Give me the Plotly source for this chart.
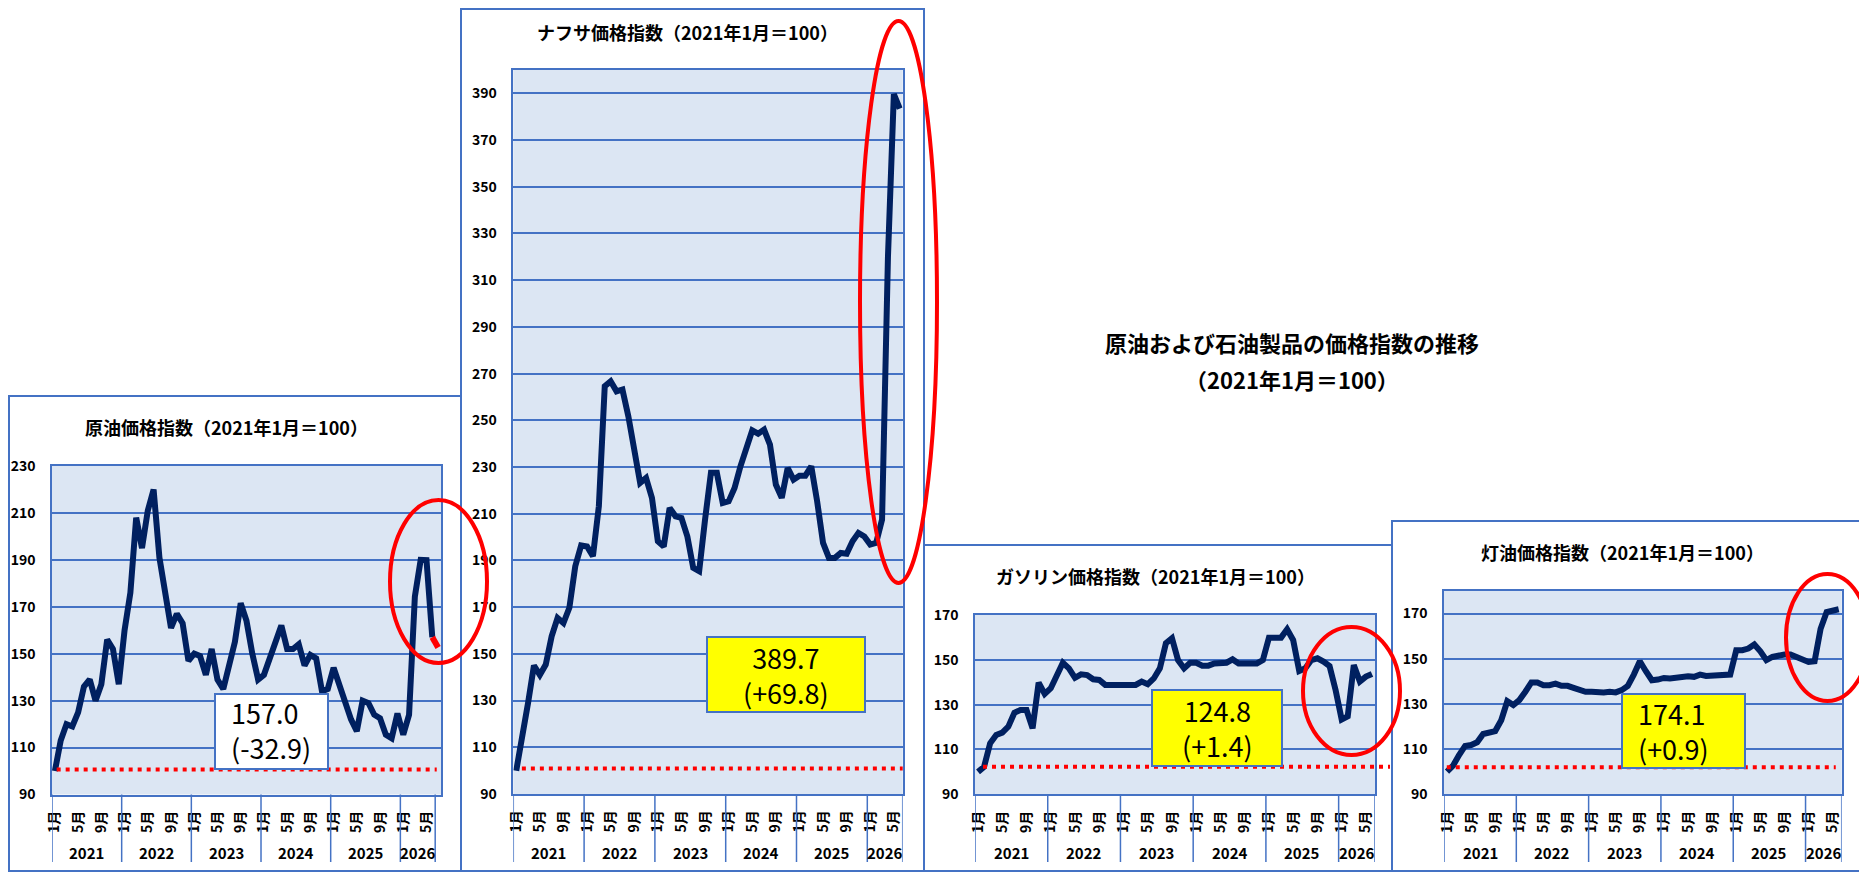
import plotly.graph_objects as go

# target picture size; the page body adds an 8px margin, so the figure is drawn
# 8px smaller and every pixel position is shifted back by that margin
W, H = 1867, 872
OFF = 8
FW, FH = W - OFF, H - OFF

BLUE = "#4472C4"
NAVY = "#002060"
RED = "#FF0000"
FONT = "Noto Sans CJK JP"

# month tick labels and year groups (2021-01 .. 2026-06)
month_ticks = [0, 4, 8, 12, 16, 20, 24, 28, 32, 36, 40, 44, 48, 52, 56, 60, 64]
month_text = ["1月", "5月", "9月"] * 5 + ["1月", "5月"]
years = ["2021", "2022", "2023", "2024", "2025", "2026"]
year_bounds = [-0.5, 11.5, 23.5, 35.5, 47.5, 59.5, 65.5]

# index values (2021-01 = 100)
crude = [100, 113, 120, 119, 125, 136, 139, 130, 137, 156, 152, 137,
         160, 176, 208, 195, 211, 220, 191, 176, 161, 167, 163, 147,
         150, 149, 141, 152, 139, 135, 145, 155, 171.5, 164, 150, 139,
         141, 148, 155, 162, 152, 152, 154, 145, 149.5, 148, 134, 135,
         144, 136, 129, 122, 117, 130, 129, 124, 122.5, 115.5, 114, 124.5,
         115.5, 124, 174.4, 190, 189.9, 157.0, 152.7]

naphtha = [100, 113, 129, 145, 141, 145.4, 157.5, 165.4, 163.2, 169.7, 187.5, 196.4,
           196, 191.8, 213.2, 264.6, 266.7, 262.4, 263.2, 251.7, 238.9, 223.2, 225.3, 216.8,
           198.2, 196, 212.5, 208.9, 208.2, 200.3, 186.8, 185.4, 207.5, 227.5, 227.5, 214.6,
           215.3, 221, 230.3, 237.5, 245.7, 244.3, 246, 239.6, 222.5, 216.8, 229.6, 224.6,
           226.3, 226.3, 230.3, 215.3, 197.5, 191.1, 191.1, 193.2, 192.9, 198.2, 201.8, 200.3,
           196.8, 197.5, 207.5, 319.9, 389.7, 383.5]

gasoline = [100, 102.3, 112.8, 116.5, 117.5, 120.2, 126.4, 127.6, 127.6, 119.4, 139.8, 134.8,
            137.3, 143.2, 148.7, 146.2, 142, 143.5, 143.2, 141.3, 141, 138.8, 138.8, 138.8,
            138.8, 138.8, 138.8, 140.3, 139.1, 141.7, 146.2, 157.4, 159.6, 149.9, 146.2, 148.7,
            148.7, 147.4, 147.4, 148.4, 148.4, 148.7, 150.2, 148.4, 148.4, 148.4, 148.4, 149.9,
            159.9, 159.9, 159.9, 163.6, 158.8, 145, 146.2, 149.9, 150.7, 149.2, 147.2, 136.5,
            123.4, 124.8, 147.7, 140.3, 142.5, 143.7]

kerosene = [100, 102.7, 107.4, 111.4, 111.8, 113, 116.7, 117.7, 118, 122.8, 131.2, 129.5,
            131.7, 135.4, 139.5, 139.5, 138.3, 138.3, 139, 138, 138, 137.1, 136.1, 135.4,
            135.4, 135.1, 135.1, 135.4, 135.1, 136.1, 138, 143, 148.9, 144.5, 140.5, 140.8,
            141.5, 141.3, 141.5, 142.3, 142.3, 142, 143, 142.4, 142.4, 142.7, 142.7, 143,
            153.8, 153.8, 154.5, 156.3, 153.3, 149.4, 150.8, 151.6, 151.9, 151.9, 150.8, 149.8,
            148.6, 148.9, 163.3, 170.7, 171.4, 171.9]

label_texts = ["157.0<br>(-32.9)", "389.7<br>(+69.8)", "124.8<br>(+1.4)", "174.1<br>(+0.9)"]
titles = ["原油価格指数（2021年1月＝100）", "ナフサ価格指数（2021年1月＝100）",
          "ガソリン価格指数（2021年1月＝100）", "灯油価格指数（2021年1月＝100）"]
main_title = ["原油および石油製品の価格指数の推移", "（2021年1月＝100）"]


def fx(px):
    return (px - OFF) / FW


def fy(py):
    return 1 - (py - OFF) / FH


# layout of each panel in picture pixels
panels = [
    dict(values=crude, ncat=67, ymax=230, ref=100.7, red_tail=True,
         box=(9, 396, 461, 871), plot=(52, 466, 441, 794.5), title_xy=(226, 427),
         lab_box=(215, 694, 328, 769), lab_xy=(229, 730), lab_align="left", lab_bg="white",
         ref_x=(0.012, 0.989), ell=(390, 500, 487, 663)),
    dict(values=naphtha, ncat=66, ymax=400, ref=100.9, red_tail=False,
         box=(461, 9, 924, 871), plot=(513.3, 70, 902.7, 794), title_xy=(687, 32),
         lab_box=(707, 637, 865, 712), lab_xy=(786, 675), lab_align="center", lab_bg="#FFFF00",
         ref_x=(0.022, 1.0), ell=(860, 21, 937, 583)),
    dict(values=gasoline, ncat=66, ymax=170, ref=102.3, red_tail=False,
         box=(924, 545, 1392, 871), plot=(975, 615, 1375, 794.3), title_xy=(1155, 576),
         lab_box=(1152, 690, 1282, 766), lab_xy=(1217, 728), lab_align="center", lab_bg="#FFFF00",
         ref_x=(0.02, 1.0375), ell=(1303, 627, 1400, 755)),
    dict(values=kerosene, ncat=66, ymax=180, ref=102, red_tail=False,
         box=(1392, 521, 1862, 871), plot=(1444, 591, 1841.7, 794.3), title_xy=(1622, 552),
         lab_box=(1622, 694, 1745, 768), lab_xy=(1636, 731), lab_align="left", lab_bg="#FFFF00",
         ref_x=(0.007, 0.985), ell=(1786, 574, 1869, 701)),
]

fig = go.Figure()
shapes = []
annotations = []

for n, p in enumerate(panels, start=1):
    sx = "" if n == 1 else str(n)
    xa, ya = "x" + sx, "y" + sx
    vals = p["values"]
    main_vals = vals[:-1] if p["red_tail"] else vals
    fig.add_trace(go.Scatter(x=list(range(len(main_vals))), y=main_vals, mode="lines",
                             line=dict(color=NAVY, width=6), xaxis=xa, yaxis=ya,
                             showlegend=False, hoverinfo="skip"))
    if p["red_tail"]:
        fig.add_trace(go.Scatter(x=[len(vals) - 2, len(vals) - 1], y=vals[-2:], mode="lines",
                                 line=dict(color=RED, width=6), xaxis=xa, yaxis=ya,
                                 showlegend=False, hoverinfo="skip"))

    l, t, r, b = p["plot"]
    fig.update_layout(**{
        "xaxis" + sx: dict(domain=[fx(l), fx(r)], anchor=ya, range=[-0.5, p["ncat"] - 0.5],
                           tickmode="array", tickvals=month_ticks, ticktext=month_text,
                           tickangle=-90, ticks="", ticklabelstandoff=9, automargin=False,
                           tickfont=dict(family=FONT, size=14, color="black", weight="bold"),
                           showgrid=False, zeroline=False, showline=True, mirror=True,
                           linecolor=BLUE, linewidth=1.5, fixedrange=True),
        "yaxis" + sx: dict(domain=[fy(b), fy(t)], anchor=xa, range=[90, p["ymax"]],
                           tickmode="array", tickvals=list(range(90, p["ymax"] + 1, 20)),
                           ticks="", ticklabelstandoff=12, automargin=False,
                           tickfont=dict(family=FONT, size=14, color="black", weight="bold"),
                           showgrid=True, gridcolor=BLUE, gridwidth=1.5, zeroline=False,
                           showline=True, mirror=True, linecolor=BLUE, linewidth=1.5,
                           fixedrange=True),
    })

    # panel frame
    bx0, by0, bx1, by1 = p["box"]
    shapes.append(dict(type="rect", xref="paper", yref="paper", x0=fx(bx0), x1=fx(bx1),
                       y0=fy(by1), y1=fy(by0), line=dict(color=BLUE, width=2), layer="below"))

    # year separators of the category axis
    for xb in year_bounds:
        shapes.append(dict(type="line", xref=xa, yref="paper", x0=xb, x1=xb,
                           y0=fy(b), y1=fy(862), line=dict(color=BLUE, width=1.5)))
    for k, yr in enumerate(years):
        annotations.append(dict(x=(year_bounds[k] + year_bounds[k + 1]) / 2, y=fy(852),
                                xref=xa, yref="paper", text=yr, showarrow=False,
                                xanchor="center", yanchor="middle",
                                font=dict(family=FONT, size=15, color="black", weight="bold")))

    # red dotted reference line
    shapes.append(dict(type="line", xref=xa + " domain", yref=ya, x0=p["ref_x"][0], x1=p["ref_x"][1],
                       y0=p["ref"], y1=p["ref"], line=dict(color=RED, width=4, dash="4px,5px")))

    # value label box
    lx0, ly0, lx1, ly1 = p["lab_box"]
    shapes.append(dict(type="rect", xref="paper", yref="paper", x0=fx(lx0), x1=fx(lx1),
                       y0=fy(ly1), y1=fy(ly0), fillcolor=p["lab_bg"],
                       line=dict(color=BLUE, width=2)))
    annotations.append(dict(x=fx(p["lab_xy"][0]), y=fy(p["lab_xy"][1]), xref="paper", yref="paper",
                            text=label_texts[n - 1], showarrow=False, align=p["lab_align"],
                            xanchor="left" if p["lab_align"] == "left" else "center",
                            yanchor="middle", font=dict(family=FONT, size=27, color="black")))

    # red ellipse
    ex0, ey0, ex1, ey1 = p["ell"]
    shapes.append(dict(type="circle", xref="paper", yref="paper", x0=fx(ex0), x1=fx(ex1),
                       y0=fy(ey1), y1=fy(ey0), line=dict(color=RED, width=4)))

    # panel title
    annotations.append(dict(x=fx(p["title_xy"][0]), y=fy(p["title_xy"][1]), xref="paper", yref="paper",
                            text=titles[n - 1], showarrow=False, xanchor="center", yanchor="middle",
                            font=dict(family=FONT, size=18, color="black", weight="bold")))

annotations.append(dict(x=fx(1292), y=fy(342), xref="paper", yref="paper", text=main_title[0],
                        showarrow=False, xanchor="center", yanchor="middle",
                        font=dict(family=FONT, size=22, color="black", weight="bold")))
annotations.append(dict(x=fx(1292), y=fy(379), xref="paper", yref="paper", text=main_title[1],
                        showarrow=False, xanchor="center", yanchor="middle",
                        font=dict(family=FONT, size=22, color="black", weight="bold")))

fig.update_layout(
    width=FW, height=FH,
    margin=dict(l=0, r=0, t=0, b=0, pad=0),
    paper_bgcolor="white",
    plot_bgcolor="#DCE6F3",
    shapes=shapes,
    annotations=annotations,
    showlegend=False,
)

fig.write_html("out.html")
